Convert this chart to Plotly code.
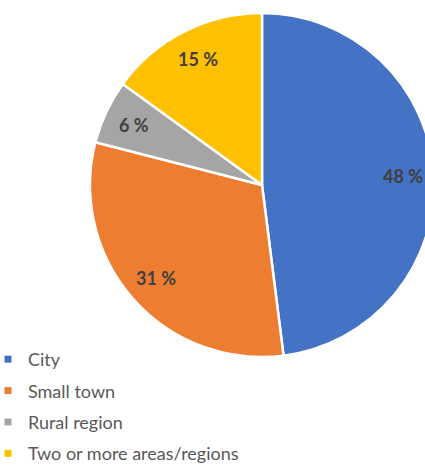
import math
import plotly.graph_objects as go

# Share of respondents by type of area
categories = ["City", "Small town", "Rural region", "Two or more areas/regions"]
shares = [48, 31, 6, 15]
colors = ["#4472C4", "#ED7D31", "#A5A5A5", "#FFC000"]

W, H = 450, 465
cx, cy, r = 262, 185, 172  # pie centre and radius in pixels
label_frac = 0.82           # radial position of the value labels

fig = go.Figure()

fig.add_trace(go.Pie(
    labels=categories,
    values=shares,
    sort=False,
    direction="clockwise",
    rotation=0,
    marker=dict(colors=colors, line=dict(color="white", width=2.5)),
    textinfo="none",
    hoverinfo="label+percent",
    showlegend=False,
    domain=dict(x=[(cx - r) / W, (cx + r) / W],
                y=[1 - (cy + r) / H, 1 - (cy - r) / H]),
))

# Value labels placed along each slice's mid-angle
total = sum(shares)
start = 0.0
for v in shares:
    mid = 2 * math.pi * (start + v / 2) / total
    start += v
    px = cx + label_frac * r * math.sin(mid)
    py = cy - label_frac * r * math.cos(mid)
    fig.add_annotation(
        x=px / W, y=1 - py / H, xref="paper", yref="paper",
        xanchor="center", yanchor="middle",
        text=f"{v} %", showarrow=False,
        font=dict(family="Lato", size=18, color="#404040", weight="bold"),
    )

# Legend entries with small square keys
for i, (name, col) in enumerate(zip(categories, colors)):
    fig.add_trace(go.Scatter(
        x=[None], y=[None], mode="markers", name=name,
        legendgroup=f"g{i}",
        marker=dict(symbol="square", size=7, color=col),
    ))

fig.update_layout(
    width=W, height=H,
    margin=dict(l=0, r=0, t=0, b=0, autoexpand=False),
    paper_bgcolor="white", plot_bgcolor="white",
    xaxis=dict(visible=False), yaxis=dict(visible=False),
    font=dict(family="Lato", color="#595959"),
    legend=dict(
        x=-12 / W, xanchor="left", y=1 - 341 / H, yanchor="top",
        traceorder="grouped", tracegroupgap=5,
        font=dict(family="Lato", size=18, color="#595959"),
        bgcolor="rgba(0,0,0,0)",
    ),
)

fig.write_html("out.html",
               post_script="document.body.style.overflow='hidden';document.body.style.margin='0';")
